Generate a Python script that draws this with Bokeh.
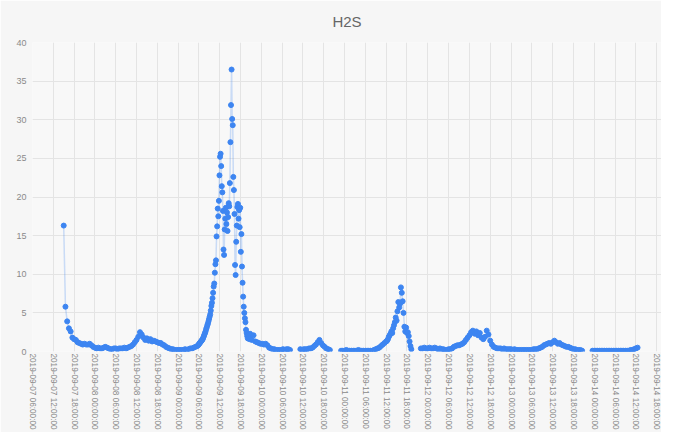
import numpy as np
import pandas as pd
from bokeh.plotting import figure
from bokeh.models import FixedTicker, DatetimeTickFormatter, Range1d, ColumnDataSource
from bokeh.embed import file_html
from bokeh.resources import INLINE

# ---- data (H2S readings) ----
seg1_start = "2019-09-07 15:00"
seg1_step = 30
seg1_vals = [16.3, 5.8, 3.9, 3.0, 2.6, 1.8, 1.6, 1.5, 1.2, 1.1, 1.0, 0.9, 1.0, 0.9, 0.9, 1.0,
             0.8, 0.6, 0.5, 0.4, 0.5, 0.4, 0.4, 0.5, 0.6, 0.5, 0.4, 0.3, 0.3, 0.4, 0.4, 0.3,
             0.4, 0.4, 0.4, 0.5, 0.4, 0.5, 0.6, 0.7, 0.9, 1.2, 1.5, 1.9, 2.5, 2.2, 1.8, 1.5,
             1.7, 1.4, 1.6, 1.3, 1.4, 1.3, 1.2, 1.1, 1.1, 0.9, 0.8, 0.6, 0.5, 0.4, 0.3, 0.3,
             0.2, 0.2, 0.2, 0.2, 0.2, 0.2, 0.3, 0.2, 0.3, 0.4, 0.4, 0.5, 0.6, 0.7]

seg2_start = "2019-09-09 05:45"
seg2_step = 10
seg2_vals = [0.8, 0.9, 1.0, 1.1, 1.2, 1.3, 1.4, 1.5, 1.6, 1.8, 2.0, 2.2, 2.4, 2.6, 2.9, 3.1,
             3.4, 3.6, 3.9, 4.2, 4.5, 4.8, 5.3, 5.9, 6.3, 6.9, 7.6, 8.4, 8.8, 10.2, 11.3, 11.8,
             14.9, 16.2, 18.5, 17.5, 19.5, 22.8, 25.2, 25.6, 24.0, 21.4, 20.6, 18.2, 13.2, 12.5,
             15.8, 17.2, 18.6, 16.5, 18.0, 15.6, 17.4, 19.2, 18.8, 21.8, 27.1, 31.9, 36.5, 30.1,
             29.3, 22.6, 20.9, 17.8, 11.2, 9.9, 14.2, 16.3, 18.7, 19.1, 17.2, 18.3, 16.1, 18.6,
             12.9, 15.2, 11.0, 8.9, 7.1, 5.8, 5.0, 4.3, 3.8, 2.8, 2.4, 2.0, 1.7, 2.2, 1.9, 1.6]

seg3_start = "2019-09-09 20:45"
seg3_step = 30
seg3_vals = [2.3, 1.5, 2.1, 1.3, 1.2, 1.1, 1.0, 1.0, 0.9, 1.0, 0.8, 0.5, 0.4, 0.3, 0.3, 0.2,
             0.2, 0.2, 0.2, 0.3, 0.2, 0.3, 0.3, 0.2]

seg4_start = "2019-09-10 11:15"
seg4_step = 30
seg4_vals = [0.3, 0.2, 0.3, 0.3, 0.3, 0.4, 0.4, 0.5, 0.7, 0.9, 1.2, 1.5, 1.1, 0.8, 0.6, 0.4,
             0.3, 0.2]

seg5_start = "2019-09-10 23:00"
seg5_step = 30
seg5_vals = [0.1, 0.1, 0.1, 0.2, 0.1, 0.1, 0.1, 0.1, 0.1, 0.1, 0.2, 0.1, 0.1, 0.1, 0.1, 0.1,
             0.1, 0.1, 0.1, 0.2, 0.3, 0.4, 0.5, 0.7, 0.9, 1.1, 1.3]

seg6_start = "2019-09-11 12:15"
seg6_step = 15
seg6_vals = [1.4, 1.6, 1.9, 2.1, 2.3, 2.6, 2.4, 3.0, 3.4, 3.8, 4.4, 4.0, 5.2, 6.4, 5.7, 6.2,
             8.3, 7.6, 6.5, 5.0, 3.2, 2.6, 3.1, 2.4, 2.5, 2.0, 1.3, 0.7, 0.3]

seg7_start = "2019-09-11 22:00"
seg7_step = 30
seg7_vals = [0.4, 0.4, 0.5, 0.4, 0.4, 0.5, 0.4, 0.4, 0.5, 0.4, 0.3, 0.4, 0.3, 0.3, 0.2, 0.2,
             0.3, 0.3, 0.4, 0.6, 0.7, 0.8, 0.8, 0.9, 1.0, 1.2, 1.5, 1.8, 2.1, 2.5, 2.7, 2.3,
             2.6, 2.1, 2.4, 1.8, 1.6, 1.9, 2.7, 2.2, 1.4, 0.9, 0.6, 0.5, 0.4, 0.4, 0.4, 0.3,
             0.4, 0.3, 0.3, 0.3, 0.3, 0.2, 0.3, 0.2, 0.2, 0.2, 0.2, 0.2, 0.2, 0.2, 0.2, 0.2,
             0.2, 0.3, 0.3, 0.3, 0.4, 0.5, 0.6, 0.8, 0.9, 1.0, 1.1, 1.0, 1.2, 1.4, 1.2, 1.0,
             1.1, 0.9, 0.8, 0.7, 0.6, 0.6, 0.5, 0.4, 0.3, 0.3, 0.2, 0.2, 0.2, 0.1]

seg8_start = "2019-09-13 23:30"
seg8_step = 30
seg8_vals = [0.1, 0.1, 0.1, 0.1, 0.1, 0.1, 0.1, 0.1, 0.1, 0.1, 0.1, 0.1, 0.1, 0.1, 0.1, 0.1,
             0.1, 0.1, 0.1, 0.1, 0.1, 0.1, 0.2, 0.2, 0.3, 0.4, 0.5]

# segments: (start, step minutes, values, gap follows)
segments = [
    (seg1_start, seg1_step, seg1_vals, False),
    (seg2_start, seg2_step, seg2_vals, False),
    (seg3_start, seg3_step, seg3_vals, True),
    (seg4_start, seg4_step, seg4_vals, True),
    (seg5_start, seg5_step, seg5_vals, False),
    (seg6_start, seg6_step, seg6_vals, True),
    (seg7_start, seg7_step, seg7_vals, True),
    (seg8_start, seg8_step, seg8_vals, False),
]

tick_labels = [
    "2019-09-07 06:00:00", "2019-09-07 12:00:00", "2019-09-07 18:00:00",
    "2019-09-08 00:00:00", "2019-09-08 06:00:00", "2019-09-08 12:00:00", "2019-09-08 18:00:00",
    "2019-09-09 00:00:00", "2019-09-09 06:00:00", "2019-09-09 12:00:00", "2019-09-09 18:00:00",
    "2019-09-10 00:00:00", "2019-09-10 06:00:00", "2019-09-10 12:00:00", "2019-09-10 18:00:00",
    "2019-09-11 00:00:00", "2019-09-11 06:00:00", "2019-09-11 12:00:00", "2019-09-11 18:00:00",
    "2019-09-12 00:00:00", "2019-09-12 06:00:00", "2019-09-12 12:00:00", "2019-09-12 18:00:00",
    "2019-09-13 00:00:00", "2019-09-13 06:00:00", "2019-09-13 12:00:00", "2019-09-13 18:00:00",
    "2019-09-14 00:00:00", "2019-09-14 06:00:00", "2019-09-14 12:00:00", "2019-09-14 18:00:00",
    "2019-09-15 00:00:00",
]
y_ticks = [0, 5, 10, 15, 20, 25, 30, 35, 40]

# ---- build series ----
xs, ys = [], []
for start, step, vals, gap in segments:
    t = pd.date_range(start, periods=len(vals), freq=f"{step}min")
    xs.extend(list(t))
    ys.extend(vals)
    if gap:
        xs.append(t[-1] + pd.Timedelta(minutes=step))
        ys.append(np.nan)

src = ColumnDataSource(data=dict(x=xs, y=ys))

x_start = pd.Timestamp("2019-09-07 06:00")
x_end = x_start + pd.Timedelta(hours=181.4)

p = figure(width=661, height=432, x_axis_type="datetime",
           output_backend="svg", toolbar_location=None,
           x_range=Range1d(x_start, x_end), y_range=Range1d(0, 40),
           min_border_left=32, min_border_right=0, min_border_top=42, min_border_bottom=80)

p.title.text = "H2S"
p.title.align = "center"
p.title.vertical_align = "top"
p.title.text_font = "Liberation Sans"
p.title.text_font_size = "15px"
p.title.text_font_style = "normal"
p.title.text_color = "#666666"
p.title.standoff = 22

bg = "#f6f6f6"
p.background_fill_color = "#f8f8f8"
p.border_fill_color = bg
p.outline_line_color = None

p.line("x", "y", source=src, line_color="#3d85f1", line_alpha=0.25, line_width=1.5)
p.scatter("x", "y", source=src, size=5, color="#3d85f1")

tick_ms = [pd.Timestamp(s).value // 10**6 for s in tick_labels]
p.xaxis.ticker = FixedTicker(ticks=tick_ms)
fmt = "%Y-%m-%d %H:%M:%S"
p.xaxis.formatter = DatetimeTickFormatter(
    microseconds=fmt, milliseconds=fmt, seconds=fmt, minsec=fmt, minutes=fmt,
    hourmin=fmt, hours=fmt, days=fmt, months=fmt, years=fmt)
p.xaxis.major_label_orientation = "vertical"
p.yaxis.ticker = FixedTicker(ticks=y_ticks)

for ax in (p.xaxis, p.yaxis):
    ax.axis_line_color = None
    ax.major_tick_line_color = None
    ax.minor_tick_line_color = None
    ax.major_tick_in = 0
    ax.major_tick_out = 0
    ax.minor_tick_in = 0
    ax.minor_tick_out = 0
    ax.axis_label_standoff = 0
    ax.major_label_text_font = "Liberation Sans"
    ax.major_label_text_color = "#8a8a8a"
p.xaxis.major_label_text_font_size = "8.2px"
p.yaxis.major_label_text_font_size = "9px"
p.xaxis.major_label_standoff = 2
p.yaxis.major_label_standoff = 6

p.xgrid.grid_line_color = "#e4e4e4"
p.ygrid.grid_line_color = "#e4e4e4"

open("out.html", "w").write(file_html(p, INLINE))
